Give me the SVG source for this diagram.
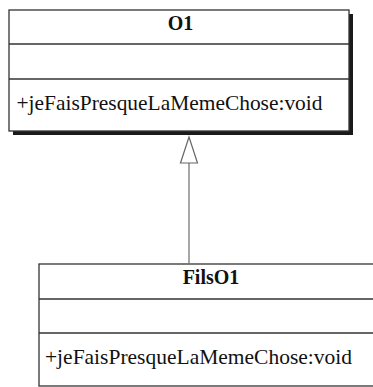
<svg xmlns="http://www.w3.org/2000/svg" width="373" height="387" viewBox="0 0 373 387">
<style>
.box{fill:#fff;stroke:#333;stroke-width:1.3}
.shadow{fill:#1a1a1a}
.div{stroke:#333;stroke-width:1.3}
.title{font-family:"Liberation Serif",serif;font-weight:bold;font-size:20px;text-anchor:middle;fill:#111}
.op{font-family:"Liberation Serif",serif;font-size:21px;fill:#111}
.conn{stroke:#777;stroke-width:1.3;fill:none}
.arrow{stroke:#666;stroke-width:1.2;fill:#fff}
</style>
<rect width="373" height="387" fill="#fff"/>
<g id="O1">
<rect class="shadow" x="13" y="14" width="340" height="121"/>
<rect class="box" x="9" y="10" width="340" height="121"/>
<line class="div" x1="9" y1="44" x2="349" y2="44"/>
<line class="div" x1="9" y1="79" x2="349" y2="79"/>
<text class="title" x="180.5" y="30">O1</text>
<text class="op" x="16.5" y="110" textLength="306" lengthAdjust="spacingAndGlyphs">+jeFaisPresqueLaMemeChose:void</text>
</g>
<g id="FilsO1">
<rect class="box" x="39" y="264" width="342" height="122"/>
<line class="div" x1="39" y1="299" x2="381" y2="299"/>
<line class="div" x1="39" y1="333" x2="381" y2="333"/>
<text class="title" x="211" y="284">FilsO1</text>
<text class="op" x="45" y="364" textLength="307" lengthAdjust="spacingAndGlyphs">+jeFaisPresqueLaMemeChose:void</text>
</g>
<g id="connectors">
<line class="conn" x1="189" y1="163" x2="189" y2="264"/>
<polygon class="arrow" points="189,137 180.5,163 197.5,163"/>
</g>
</svg>
